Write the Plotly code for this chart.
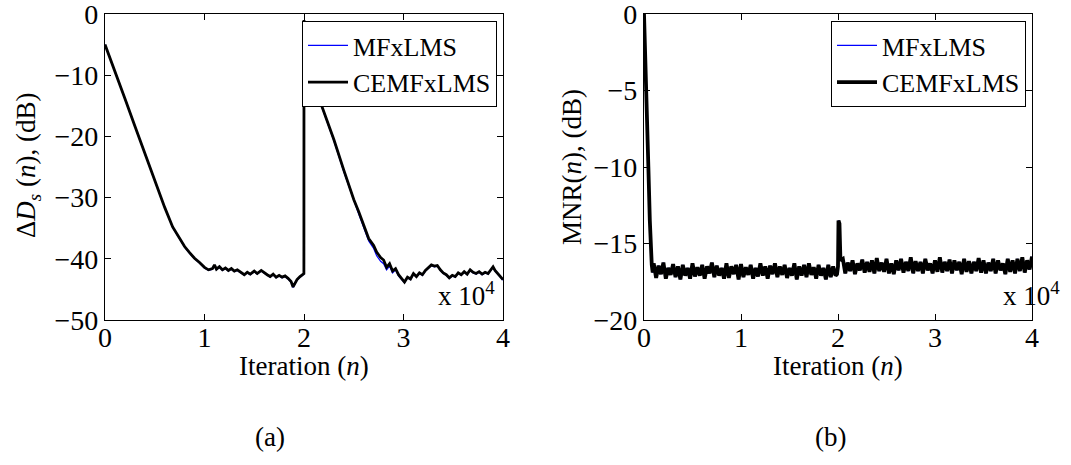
import plotly.graph_objects as go

# ---------------- Data: panel (a)  Delta D_s(n) in dB ----------------
ds_n = [0, 1000, 2000, 3000, 4000, 5000, 6000, 6800, 7500, 8000, 8500, 9000, 9500,
        10000, 10400, 10800, 11000, 11200, 11500, 11800, 12100, 12400, 12700, 13000,
        13300, 13700, 14000, 14300, 14600, 15000, 15300, 15700, 16000, 16300, 16600,
        16900, 17200, 17500, 17800, 18100, 18400, 18700, 18900, 19100, 19300, 19600,
        19900, 19990,
        20000, 20150, 21000, 22000, 23000, 24000, 25000, 25500, 26000, 26500, 27000,
        27300, 27700, 28000, 28300, 28600, 28900, 29200, 29500, 29800, 30100, 30400,
        30700, 31000, 31300, 31600, 31900, 32200, 32500, 32800, 33100, 33400, 33700,
        34000, 34300, 34600, 34900, 35200, 35500, 35800, 36100, 36400, 36700, 37000,
        37300, 37600, 37900, 38200, 38500, 38800, 39000, 39200, 39500, 39700, 40000]

ds_cem = [-5.0, -9.3, -13.8, -18.3, -22.8, -27.3, -31.6, -34.8, -36.8, -38.0, -39.0, -39.9, -40.6,
          -41.4, -41.8, -41.6, -41.0, -41.7, -41.3, -41.8, -41.5, -41.9, -41.6, -42.0,
          -41.8, -42.3, -42.6, -42.2, -42.5, -42.0, -42.4, -41.9, -42.3, -42.6, -42.9,
          -42.5, -43.0, -42.7, -43.0, -42.8, -43.2, -43.7, -44.6, -44.0, -43.4, -42.9,
          -42.5, -42.4,
          -1.0, -6.0, -11.5, -16.0, -20.5, -25.5, -30.3, -32.3, -34.5, -36.7, -37.8,
          -38.9, -39.8, -40.2, -41.4, -40.8, -42.0, -41.6, -42.6, -43.2, -43.8, -43.0,
          -43.3, -42.4, -42.9, -42.3, -42.6, -41.9, -41.4, -41.0, -41.2, -41.1, -41.8,
          -42.3, -42.6, -43.1, -42.7, -42.9, -42.3, -42.6, -42.1, -42.5, -41.8, -42.2,
          -42.4, -42.1, -42.5, -42.2, -42.4, -41.6, -41.3, -41.9, -42.4, -42.9, -43.4]

ds_mf = [-5.0, -9.3, -13.8, -18.3, -22.8, -27.3, -31.6, -34.9, -36.9, -38.1, -39.1, -40.0, -40.7,
         -41.5, -41.9, -41.7, -41.1, -41.8, -41.4, -41.9, -41.6, -42.0, -41.7, -42.1,
         -41.9, -42.4, -42.7, -42.3, -42.6, -42.1, -42.5, -42.0, -42.4, -42.7, -43.0,
         -42.6, -43.1, -42.8, -43.1, -42.9, -43.3, -43.8, -44.7, -44.1, -43.5, -43.0,
         -42.6, -42.5,
         -1.0, -6.0, -11.6, -16.1, -20.7, -25.8, -30.6, -32.7, -34.9, -37.1, -38.3,
         -39.5, -40.4, -40.8, -41.8, -41.2, -42.3, -41.8, -42.8, -43.4, -43.9, -43.1,
         -43.4, -42.5, -43.0, -42.4, -42.7, -42.0, -41.5, -41.1, -41.3, -41.2, -41.9,
         -42.4, -42.7, -43.2, -42.8, -43.0, -42.4, -42.7, -42.2, -42.6, -41.9, -42.3,
         -42.5, -42.2, -42.6, -42.3, -42.5, -41.7, -41.4, -42.0, -42.5, -43.0, -43.5]

# ---------------- Data: panel (b)  MNR(n) in dB ----------------
mnr_head_n = [0, 150, 300, 450, 600, 700, 800, 900]
mnr_head = [0.0, -2.8, -5.6, -10.0, -13.5, -15.2, -16.4, -16.9]

mnr_band1_n = list(range(1000, 19751, 250))
mnr_band1 = [-16.3, -17.25, -16.45, -17.0, -16.25, -17.3, -16.6, -17.05, -16.35, -17.2,
             -16.5, -17.35, -16.4, -17.1, -16.6, -17.3, -16.3, -17.15, -16.55, -17.1,
             -16.4, -17.3, -16.5, -16.95, -16.25, -17.2, -16.45, -17.1, -16.6, -17.3,
             -16.3, -17.25, -16.5, -17.0, -16.4, -17.35, -16.35, -17.2, -16.55, -17.05,
             -16.4, -17.3, -16.6, -17.15, -16.3, -17.1, -16.5, -17.3, -16.45, -17.0,
             -16.3, -17.2, -16.5, -17.05, -16.4, -17.25, -16.6, -17.1, -16.3, -17.35,
             -16.5, -17.1, -16.4, -17.2, -16.3, -17.05, -16.55, -17.3, -16.4, -17.1,
             -16.6, -17.35, -16.4, -17.2, -16.5, -17.1]

mnr_spike_n = [19900, 20000, 20050, 20150, 20250]
mnr_spike = [-17.0, -16.5, -13.5, -13.7, -16.1]

mnr_band2_n = list(range(20500, 40001, 250))
mnr_band2 = [-16.0, -16.95, -16.25, -16.8, -16.1, -17.0, -16.3, -16.75, -16.05, -16.9,
             -16.2, -16.85, -16.1, -16.95, -15.95, -16.8, -16.25, -16.85, -16.0, -16.95,
             -16.3, -17.0, -16.1, -16.75, -16.0, -16.9, -16.2, -16.8, -15.9, -16.95,
             -16.15, -16.8, -16.2, -16.95, -16.0, -16.75, -16.3, -16.95, -16.1, -16.85,
             -15.9, -16.9, -16.2, -16.8, -16.05, -16.95, -16.1, -16.75, -16.2, -17.0,
             -16.0, -16.85, -16.15, -16.95, -16.2, -16.8, -15.95, -16.9, -16.1, -16.95,
             -16.25, -16.8, -16.0, -16.95, -16.1, -16.75, -16.3, -17.0, -16.0, -16.85,
             -16.1, -16.95, -16.0, -16.8, -15.9, -16.9, -16.1, -16.7, -15.85]

mnr_n = mnr_head_n + mnr_band1_n + mnr_spike_n + mnr_band2_n
mnr_val = mnr_head + mnr_band1 + mnr_spike + mnr_band2

x_tickvals = [0, 10000, 20000, 30000, 40000]
x_ticktext = ["0", "1", "2", "3", "4"]
ya_tickvals = [-50, -40, -30, -20, -10, 0]
yb_tickvals = [-20, -15, -10, -5, 0]
series_names = ["MFxLMS", "CEMFxLMS"]

W, H = 1071, 465
FONT = "Liberation Serif"

fig = go.Figure()

fig.add_trace(go.Scatter(x=ds_n, y=ds_mf, mode="lines", name=series_names[0],
                         line=dict(color="#0000ff", width=1.2), xaxis="x", yaxis="y",
                         legend="legend"))
fig.add_trace(go.Scatter(x=ds_n, y=ds_cem, mode="lines", name=series_names[1],
                         line=dict(color="black", width=2.8), xaxis="x", yaxis="y",
                         legend="legend"))
fig.add_trace(go.Scatter(x=mnr_n, y=mnr_val, mode="lines", name=series_names[0],
                         line=dict(color="#0000ff", width=1.2), xaxis="x2", yaxis="y2",
                         legend="legend2"))
fig.add_trace(go.Scatter(x=mnr_n, y=mnr_val, mode="lines", name=series_names[1],
                         line=dict(color="black", width=3.8), xaxis="x2", yaxis="y2",
                         legend="legend2"))


def px_x(p):
    return p / W


def px_y(p):
    return 1 - p / H


axis_common = dict(showline=True, linecolor="black", linewidth=1.3, mirror="ticks",
                   ticks="inside", ticklen=6, tickcolor="black", tickwidth=1,
                   showgrid=False, zeroline=False, automargin=False,
                   ticklabeloverflow="allow",
                   tickfont=dict(family=FONT, size=28, color="black"))

legend_common = dict(xanchor="right", yanchor="top",
                     bordercolor="black", borderwidth=1, bgcolor="white",
                     font=dict(family=FONT, size=26, color="black"),
                     tracegroupgap=0, itemwidth=40)

fig.update_layout(
    template="none",
    width=W, height=H, autosize=False,
    margin=dict(l=0, r=0, t=0, b=0, pad=0),
    paper_bgcolor="white", plot_bgcolor="white",
    font=dict(family=FONT, color="black"),
    xaxis=dict(domain=[px_x(105), px_x(503)], range=[0, 40000], anchor="y",
               tickvals=x_tickvals, ticktext=x_ticktext, ticklabelstandoff=-8, **axis_common),
    yaxis=dict(domain=[px_y(320), px_y(14)], range=[-50, 0], anchor="x",
               tickvals=ya_tickvals, **axis_common),
    xaxis2=dict(domain=[px_x(644), px_x(1032)], range=[0, 40000], anchor="y2",
                tickvals=x_tickvals, ticktext=x_ticktext, ticklabelstandoff=-8, **axis_common),
    yaxis2=dict(domain=[px_y(320), px_y(14)], range=[-20, 0], anchor="x2",
                tickvals=yb_tickvals, **axis_common),
    legend=dict(x=px_x(497), y=px_y(21), **legend_common),
    legend2=dict(x=px_x(1026), y=px_y(21), **legend_common),
    showlegend=True,
)

ann_font = dict(family=FONT, size=27, color="black")
annotations = [
    dict(text="Iteration (<i>n</i>)", x=px_x(304), y=px_y(366)),
    dict(text="Iteration (<i>n</i>)", x=px_x(838), y=px_y(366)),
    dict(text="x 10<sup>4</sup>", x=px_x(466), y=px_y(294)),
    dict(text="x 10<sup>4</sup>", x=px_x(1031), y=px_y(294)),
    dict(text="(a)", x=px_x(270), y=px_y(437)),
    dict(text="(b)", x=px_x(830), y=px_y(437)),
    dict(text="Δ<i>D</i><sub><i>s</i></sub> (<i>n</i>), (dB)", x=px_x(28), y=px_y(166), textangle=-90),
    dict(text="MNR(<i>n</i>), (dB)", x=px_x(572), y=px_y(167), textangle=-90),
]
for a in annotations:
    fig.add_annotation(xref="paper", yref="paper", showarrow=False,
                       xanchor="center", yanchor="middle", font=ann_font, **a)

fig.write_html("out.html", config={"displayModeBar": False},
               post_script="document.body.style.margin='0';document.body.style.overflow='hidden';")
